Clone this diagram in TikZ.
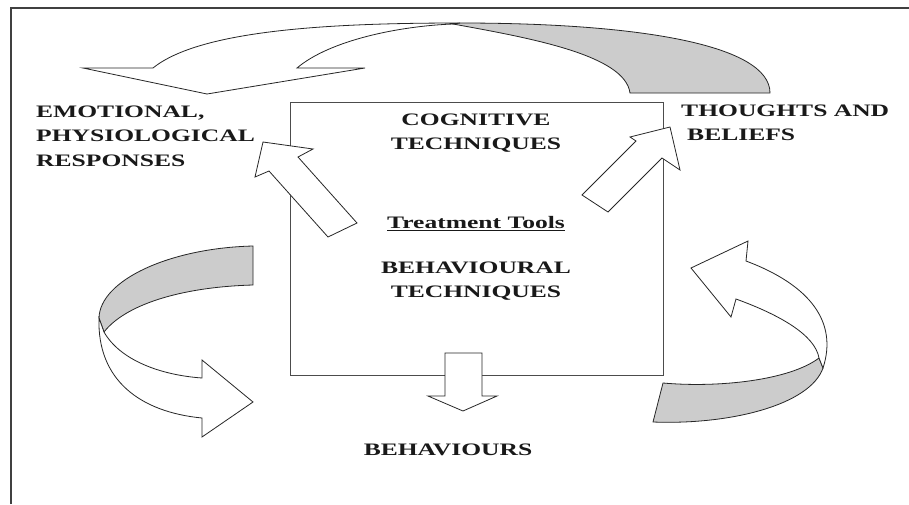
\documentclass[tikz,border=0pt]{standalone}
\usepackage{fontspec}
\setmainfont{Liberation Serif}[FakeStretch=1.46]
\begin{document}
\begin{tikzpicture}[x=1pt,y=-1pt,
  frameline/.style={draw=black!75, line width=1.4pt},
  mainbox/.style={draw=black!70, line width=1pt, inner sep=0pt, anchor=north west},
  blockarrow/.style={draw=black!85, line width=0.8pt, fill=white, line join=miter},
  band/.style={draw=black!85, line width=0.8pt, fill=black!20, line join=miter},
  lbl/.style={font=\fontsize{17.5}{24.5}\selectfont\bfseries, text=black!90, inner sep=0pt}]
\useasboundingbox[fill=white] (0,0) rectangle (909,504);
% outer frame (cut off at right and bottom)
\draw[frameline] (11,504) -- (11,8) -- (909,8);
% central box
\node[mainbox, minimum width=373pt, minimum height=273pt] (box) at (290,102) {};
% top ribbon arrow
\path[band] (453,24) .. controls (530,38) and (625,55) .. (630,93) -- (770,93)
  .. controls (770,45) and (640,23) .. (460,23) -- cycle;
\path[blockarrow] (153,68) .. controls (200,30) and (330,23) .. (460,23) -- (453,24)
  .. controls (400,26) and (330,40) .. (297,68) -- (365,68) -- (207,94) -- (83,68) -- cycle;
% left ribbon arrow
\path[band] (253,246) .. controls (170,248) and (100,280) .. (99,318) -- (104,332)
  .. controls (125,305) and (180,287) .. (253,285) -- cycle;
\path[blockarrow] (99,318) .. controls (97,380) and (140,412) .. (202,418) -- (202,437)
  -- (253,402) -- (202,360) -- (202,378) .. controls (160,375) and (120,360) .. (104,332) -- cycle;
% right ribbon arrow
\path[band] (663,383) .. controls (720,388) and (790,380) .. (819,358) -- (823,368)
  .. controls (810,405) and (730,425) .. (653,422) -- cycle;
\path[blockarrow] (823,368) .. controls (838,322) and (810,285) .. (746,261) -- (748,241)
  -- (691,268) -- (731,317) -- (736,299) .. controls (780,315) and (815,335) .. (819,358) -- cycle;
% straight block arrows
\path[blockarrow] (263,142) -- (313,149) -- (298,157) -- (357,223) -- (328,237) -- (269,171) -- (255,177) -- cycle;
\path[blockarrow] (670,127) -- (680,170) -- (662,158) -- (608,212) -- (582,195) -- (636,141) -- (630,137) -- cycle;
\path[blockarrow] (445,353) -- (482,353) -- (482,396) -- (497,396) -- (463,411) -- (428,396) -- (445,396) -- cycle;
% labels
\node[lbl, align=center] (cog) at (476,133) {COGNITIVE\\TECHNIQUES};
\node[lbl] (tt) at (476,224) {\underline{Treatment Tools}};
\node[lbl, align=center] (beh) at (476,281) {BEHAVIOURAL\\TECHNIQUES};
\node[lbl] (bs) at (448,450) {BEHAVIOURS};
\node[lbl, align=left, anchor=west] (emo) at (36,136) {EMOTIONAL,\\PHYSIOLOGICAL\\RESPONSES};
\node[lbl, align=left, anchor=west] (tb) at (681,123) {THOUGHTS AND\\\hspace*{6pt}BELIEFS};
\end{tikzpicture}
\end{document}
